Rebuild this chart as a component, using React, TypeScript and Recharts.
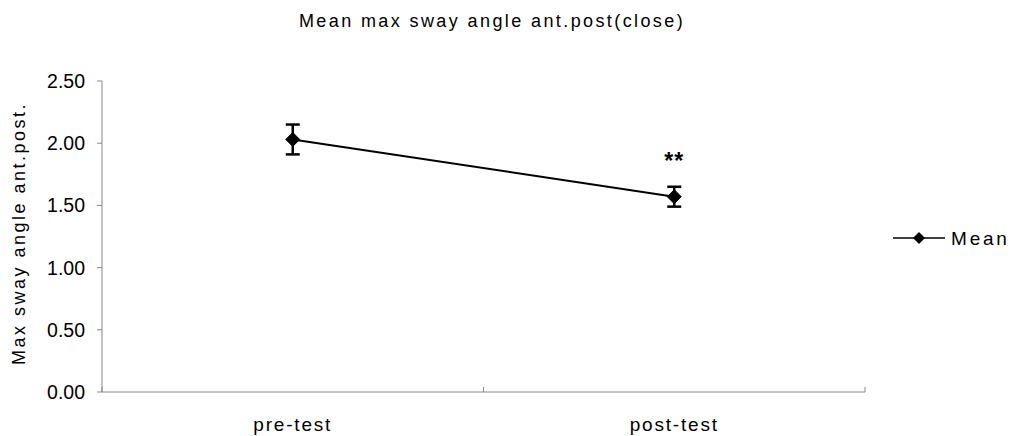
import React from 'react';
import * as Recharts from 'recharts';
import { LineChart, Line, XAxis, YAxis, ErrorBar, LabelList } from 'recharts';

const categories = ['pre-test', 'post-test'];
const meanValues = [2.03, 1.57];
const errorValues = [0.12, 0.08];
const significance = ['', '**'];
const yTicks = [0, 0.5, 1, 1.5, 2, 2.5];

const data = categories.map((name, i) => ({
  name,
  mean: meanValues[i],
  err: errorValues[i],
  sig: significance[i],
}));

const FONT = '"Liberation Sans", Arial, sans-serif';

const Diamond = (props: any) => {
  const { cx, cy } = props;
  if (cx == null || cy == null) return null;
  const r = 7;
  return (
    <polygon
      points={`${cx},${cy - r} ${cx + r},${cy} ${cx},${cy + r} ${cx - r},${cy}`}
      fill="#000"
      stroke="#000"
    />
  );
};

const SigLabel = (props: any) => {
  const { x, y, value } = props;
  if (!value) return null;
  return (
    <text x={x} y={y - 28} textAnchor="middle" fontFamily={FONT} fontSize={23} fontWeight="bold" letterSpacing={1} fill="#000">
      {value}
    </text>
  );
};

// small marks at the category band boundaries on the bottom axis
const usePlotAreaSafe: () => any = (Recharts as any).usePlotArea || (() => null);
const BandBoundaryTicks = () => {
  const area = usePlotAreaSafe();
  if (!area) return null;
  const n = categories.length;
  const bottom = area.y + area.height;
  return (
    <g>
      {Array.from({ length: n + 1 }, (_, i) => {
        const x = area.x + (area.width * i) / n;
        return <line key={i} x1={x} y1={bottom} x2={x} y2={bottom - 5} stroke="#888" strokeWidth={1} />;
      })}
    </g>
  );
};

export default function App() {
  return (
    <div style={{ position: 'absolute', left: 0, top: 0, width: 1016, height: 436, background: '#fff' }}>
      <LineChart
        width={1016}
        height={436}
        data={data}
        margin={{ top: 81, right: 151, bottom: 14, left: 0 }}
      >
        <text x={492} y={27} textAnchor="middle" fontFamily={FONT} fontSize={18} letterSpacing={2.4} fill="#000">
          Mean max sway angle ant.post(close)
        </text>
        <XAxis
          dataKey="name"
          scale="band"
          stroke="#888"
          tickLine={false}
          tick={{ fill: '#000', fontSize: 19, fontFamily: FONT, letterSpacing: 1.8, dy: 18 }}
        />
        <YAxis
          width={102}
          domain={[0, 2.5]}
          ticks={yTicks}
          stroke="#888"
          tickSize={5}
          tickFormatter={(v: number) => v.toFixed(2)}
          tick={{ fill: '#000', fontSize: 19.5, fontFamily: FONT, dx: -10 }}
          label={{
            value: 'Max sway angle ant.post.',
            angle: -90,
            position: 'insideLeft',
            dx: 14,
            dy: -3,
            style: { fontSize: 18, fontFamily: FONT, letterSpacing: 2.5, fill: '#000', textAnchor: 'middle' },
          }}
        />
        <BandBoundaryTicks />
        <Line
          dataKey="mean"
          stroke="#000"
          strokeWidth={2}
          dot={<Diamond />}
          activeDot={false}
          isAnimationActive={false}
        >
          <ErrorBar dataKey="err" width={7} strokeWidth={2.5} stroke="#000" direction="y" />
          <LabelList dataKey="sig" content={<SigLabel />} />
        </Line>
        <g>
          <line x1={893} y1={238} x2={945} y2={238} stroke="#000" strokeWidth={1.5} />
          <polygon points="919,232 925,238 919,244 913,238" fill="#000" />
          <text x={951} y={245} fontFamily={FONT} fontSize={19} letterSpacing={2.8} fill="#000">
            Mean
          </text>
        </g>
      </LineChart>
    </div>
  );
}
